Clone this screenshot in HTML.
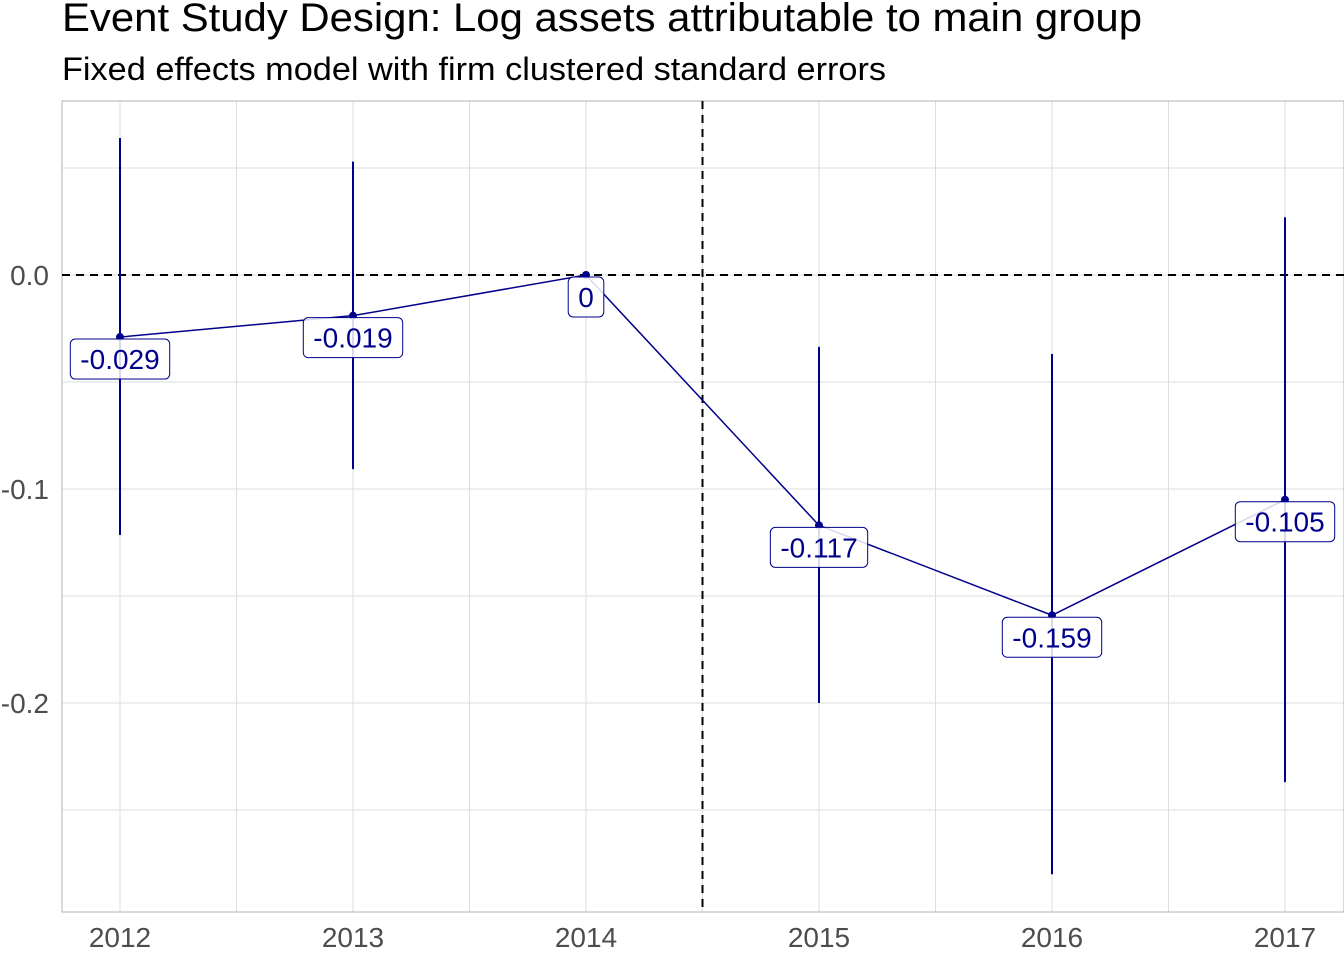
<!DOCTYPE html>
<html><head><meta charset="utf-8"><style>
body{margin:0;background:#fff;}
svg text{font-family:"Liberation Sans",Arial,sans-serif;}
</style></head><body>
<svg id="chart" width="1344" height="960" xmlns="http://www.w3.org/2000/svg">
<text x="62" y="31" font-size="40" textLength="1080" lengthAdjust="spacingAndGlyphs" fill="#000">Event Study Design: Log assets attributable to main group</text>
<text x="62" y="80" font-size="32" textLength="824" lengthAdjust="spacingAndGlyphs" fill="#000">Fixed effects model with firm clustered standard errors</text>
<g id="grid"></g>
<g id="marks"></g>
</svg>
<script>
const years = [2012, 2013, 2014, 2015, 2016, 2017];
const estimates = [-0.029, -0.019, 0, -0.117, -0.159, -0.105];
const ciLow = [-0.1215, -0.0907, 0, -0.2, -0.280, -0.237];
const ciHigh = [0.064, 0.053, 0, -0.0336, -0.0369, 0.027];
const yTicks = [0.0, -0.1, -0.2];
const yTickLabels = ["0.0", "-0.1", "-0.2"];
const eventLine = 2014.5;

const L=62,R=1344,T=101,B=912;
const X=v=>120+(v-2012)*233;
const Y=v=>275-v*2140;
const NS="http://www.w3.org/2000/svg";
const grid=document.getElementById('grid'), marks=document.getElementById('marks');
function mk(tag,attrs,parent){const e=document.createElementNS(NS,tag);for(const k in attrs)e.setAttribute(k,attrs[k]);parent.appendChild(e);return e;}

for(let v=0.05; v>=-0.3; v-=0.05){const y=Y(v);if(y<T||y>B)continue;
 const l=mk('line',{x1:L,x2:R,y1:y,y2:y,stroke:'#dedede','stroke-width':1},grid);
 
 }
for(let v=2011.5; v<=2017.5; v+=0.5){const x=X(v);if(x<L||x>R)continue;
 const l=mk('line',{x1:x,x2:x,y1:T,y2:B,stroke:'#dedede','stroke-width':1},grid);
 
 }
const panel=mk('rect',{x:L,y:T,width:R-L,height:B-T,fill:'none',stroke:'#b3b3b3','stroke-width':1},grid);



yTicks.forEach((v,i)=>{const t=mk('text',{x:49,y:Y(v)+10,'font-size':28,fill:'#4d4d4d','text-anchor':'end'},grid);t.textContent=yTickLabels[i];
 
 });
years.forEach(v=>{const t=mk('text',{x:X(v),y:947,'font-size':28,fill:'#4d4d4d','text-anchor':'middle'},grid);t.textContent=v;
 
 });

const h=mk('line',{x1:L,x2:R,y1:Y(0),y2:Y(0),stroke:'#000','stroke-width':2,'stroke-dasharray':'8,6'},marks);


const vl=mk('line',{x1:X(eventLine),x2:X(eventLine),y1:T,y2:B,stroke:'#000','stroke-width':2,'stroke-dasharray':'8,6'},marks);



years.forEach((v,i)=>{if(ciLow[i]===ciHigh[i])return;
 const e=mk('line',{x1:X(v),x2:X(v),y1:Y(ciHigh[i]),y2:Y(ciLow[i]),stroke:'#00008b','stroke-width':2},marks);
 
 });
const pl=mk('polyline',{points:years.map((v,i)=>X(v)+','+Y(estimates[i])).join(' '),fill:'none',stroke:'#00008b','stroke-width':1.5},marks);


years.forEach((v,i)=>{const c=mk('circle',{cx:X(v),cy:Y(estimates[i]),r:4,fill:'#00008b'},marks);
 
 });
years.forEach((v,i)=>{
 const g=mk('g',{},marks);
 
 
 const txt=String(estimates[i]);
 const cy=Y(estimates[i])+22;
 const t=mk('text',{x:X(v),y:cy+10,'font-size':28,fill:'#00008b','text-anchor':'middle'},g);
 t.textContent=txt;
 const w=t.getComputedTextLength()+20;
 const r=mk('rect',{x:X(v)-w/2,y:cy-20,width:w,height:40,rx:5,fill:'#fff','fill-opacity':0.85,stroke:'#00008b','stroke-width':1},g);
 g.insertBefore(r,t);
});
</script>
</body></html>
